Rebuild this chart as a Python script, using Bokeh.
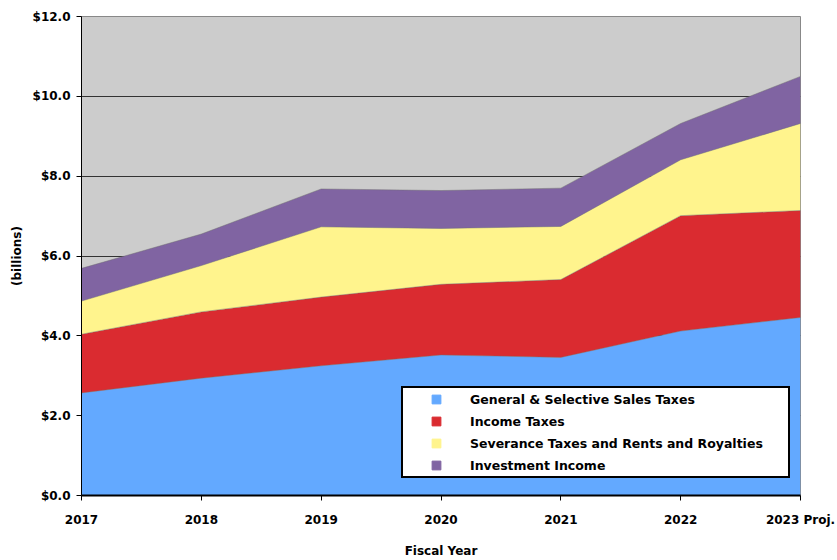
from bokeh.plotting import figure
from bokeh.models import ColumnDataSource, Range1d, FixedTicker, NumeralTickFormatter, Legend, LegendItem
from bokeh.transform import stack
from bokeh.embed import file_html
from bokeh.resources import INLINE

# ---- data (billions of dollars) ----
years = [2017, 2018, 2019, 2020, 2021, 2022, 2023]
year_labels = ["2017", "2018", "2019", "2020", "2021", "2022", "2023 Proj."]
sales_taxes = [2.57, 2.94, 3.25, 3.52, 3.46, 4.12, 4.46]
income_taxes = [1.47, 1.66, 1.72, 1.77, 1.95, 2.89, 2.68]
severance = [0.83, 1.16, 1.76, 1.40, 1.33, 1.40, 2.18]
investment = [0.82, 0.79, 0.95, 0.95, 0.96, 0.91, 1.18]
y_ticks = [0, 2, 4, 6, 8, 10, 12]
series_names = [
    "General & Selective Sales Taxes",
    "Income Taxes",
    "Severance Taxes and Rents and Royalties",
    "Investment Income",
]
colors = ["#63A9FF", "#DA2B30", "#FFF48D", "#8064A2"]

FONT = "DejaVu Sans"

src = ColumnDataSource(dict(
    x=years,
    sales=sales_taxes,
    income=income_taxes,
    sev=severance,
    inv=investment,
))

p = figure(
    width=837, height=560,
    x_range=Range1d(years[0], years[-1]),
    y_range=Range1d(y_ticks[0], y_ticks[-1]),
    output_backend="svg", toolbar_location=None,
    min_border_left=81, min_border_right=37, min_border_top=16, min_border_bottom=63,
)
p.background_fill_color = "#CCCCCC"
p.border_fill_color = "white"
p.outline_line_color = "#888888"
p.outline_line_width = 1

stack_cols = ["sales", "income", "sev", "inv"]
p.varea_stack(stackers=stack_cols, x="x", color=colors, source=src)
# faint boundary lines between the stacked areas
for i in range(1, len(stack_cols) + 1):
    p.line(x="x", y=stack(*stack_cols[:i]), source=src,
           line_color="#6e6e6e", line_alpha=0.45, line_width=1)

# grid
p.xgrid.grid_line_color = None
p.ygrid.ticker = FixedTicker(ticks=y_ticks)
p.ygrid.grid_line_color = "#333333"
p.ygrid.grid_line_width = 1

# axes
p.xaxis.ticker = FixedTicker(ticks=years)
p.xaxis.major_label_overrides = {y: l for y, l in zip(years, year_labels)}
p.yaxis.ticker = FixedTicker(ticks=y_ticks)
p.yaxis.formatter = NumeralTickFormatter(format="$0.0")
for ax in (p.xaxis[0], p.yaxis[0]):
    ax.major_label_text_font = FONT
    ax.major_label_text_font_style = "bold"
    ax.major_label_text_font_size = "12px"
    ax.major_label_text_color = "black"
    ax.axis_label_text_font = FONT
    ax.axis_label_text_font_style = "bold"
    ax.axis_label_text_font_size = "12px"
    ax.axis_label_text_color = "black"
    ax.axis_line_color = "black"
    ax.major_tick_line_color = "black"
    ax.major_tick_out = 5
    ax.major_tick_in = 0
    ax.minor_tick_line_color = None
p.xaxis.axis_line_width = 2
p.xaxis.axis_label = "Fiscal Year"
p.yaxis.axis_label = "(billions)"
p.xaxis.major_label_standoff = 12
p.xaxis.axis_label_standoff = 14
p.yaxis.major_label_standoff = 6
p.yaxis.axis_label_standoff = 6

# legend with square markers (NaN points: drawn only in the legend)
legend_items = []
for name, c in zip(series_names, colors):
    r = p.scatter(x=[float("nan")], y=[float("nan")], marker="square",
                  fill_color=c, line_color=c)
    legend_items.append(LegendItem(label=name, renderers=[r]))

legend = Legend(
    items=legend_items,
    location=(320, 17),
    padding=0,
    spacing=0,
    glyph_width=66,
    glyph_height=22,
    label_height=22,
    label_standoff=1,
    label_width=318,
    label_text_font=FONT,
    label_text_font_style="bold",
    label_text_font_size="12.5px",
    label_text_color="black",
    border_line_color="black",
    border_line_alpha=1,
    border_line_width=2,
    background_fill_color="white",
    background_fill_alpha=1,
)
p.add_layout(legend)

open("out.html", "w").write(file_html(p, INLINE))
